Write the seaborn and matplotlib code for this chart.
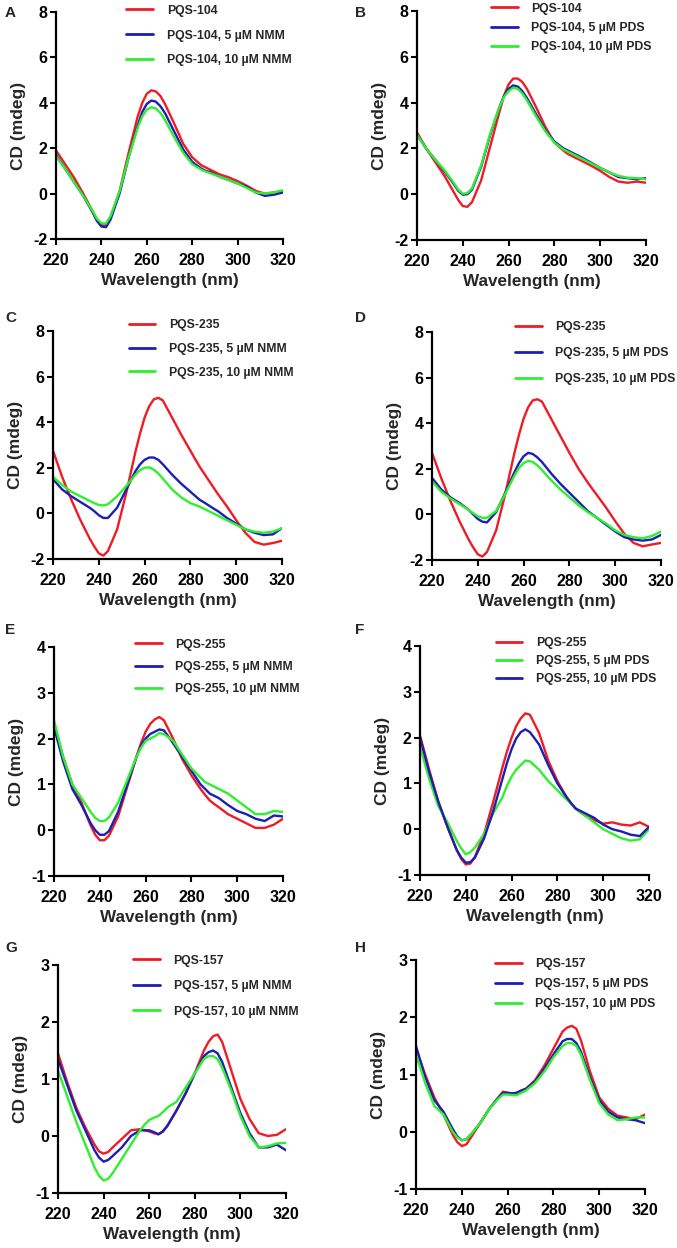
import numpy as np
import pandas as pd
import matplotlib
matplotlib.use("Agg")
import matplotlib.pyplot as plt
import seaborn as sns

# ---------------- data ----------------
wavelength = [220, 224, 228, 232, 236, 238, 240, 242, 244, 248, 252, 256, 258,
              260, 262, 264, 266, 268, 272, 276, 280, 284, 286, 288, 290, 292,
              296, 300, 304, 308, 312, 316, 320]

A_ctrl = [1.9, 1.3, 0.7, 0.0, -0.75, -1.15, -1.4, -1.4, -1.05, 0.1, 1.8, 3.4, 4.0,
          4.4, 4.55, 4.5, 4.3, 3.95, 3.1, 2.2, 1.6, 1.25, 1.15, 1.05, 0.95, 0.85,
          0.72, 0.55, 0.35, 0.12, 0.0, 0.05, 0.1]
A_5uM = [1.7, 1.1, 0.5, -0.1, -0.8, -1.2, -1.45, -1.48, -1.15, 0.0, 1.6, 3.0, 3.6,
         3.95, 4.1, 4.05, 3.85, 3.55, 2.75, 1.95, 1.4, 1.1, 1.0, 0.95, 0.85, 0.75,
         0.6, 0.45, 0.3, 0.05, -0.1, -0.05, 0.05]
A_10uM = [1.65, 1.1, 0.5, -0.1, -0.75, -1.1, -1.3, -1.32, -1.0, 0.1, 1.6, 2.9, 3.4,
          3.7, 3.8, 3.75, 3.55, 3.25, 2.5, 1.8, 1.3, 1.05, 0.97, 0.9, 0.82, 0.75,
          0.6, 0.45, 0.25, 0.05, 0.0, 0.05, 0.15]

B_ctrl = [2.7, 2.0, 1.4, 0.8, 0.1, -0.25, -0.52, -0.55, -0.35, 0.6, 2.1, 3.6, 4.3,
          4.8, 5.05, 5.05, 4.9, 4.6, 3.8, 2.95, 2.25, 1.9, 1.75, 1.65, 1.55, 1.45,
          1.25, 1.02, 0.75, 0.55, 0.5, 0.55, 0.5]
B_5uM = [2.6, 2.0, 1.5, 1.0, 0.45, 0.15, -0.02, 0.0, 0.2, 1.2, 2.6, 3.8, 4.3,
         4.6, 4.75, 4.7, 4.5, 4.2, 3.5, 2.8, 2.3, 2.0, 1.9, 1.8, 1.7, 1.6,
         1.38, 1.15, 0.95, 0.75, 0.7, 0.65, 0.7]
B_10uM = [2.6, 2.0, 1.5, 1.05, 0.5, 0.2, 0.02, 0.05, 0.25, 1.25, 2.65, 3.8, 4.25,
          4.5, 4.65, 4.6, 4.4, 4.1, 3.4, 2.75, 2.25, 1.95, 1.85, 1.75, 1.65, 1.55,
          1.35, 1.15, 0.95, 0.8, 0.72, 0.7, 0.65]

C_ctrl = [2.75, 1.6, 0.6, -0.3, -1.1, -1.45, -1.75, -1.85, -1.65, -0.7, 0.9, 2.7, 3.5,
          4.2, 4.7, 5.0, 5.07, 4.95, 4.2, 3.45, 2.75, 2.05, 1.75, 1.45, 1.15, 0.85,
          0.3, -0.3, -0.85, -1.25, -1.37, -1.3, -1.2]
C_5uM = [1.5, 1.05, 0.75, 0.5, 0.25, 0.1, -0.08, -0.2, -0.2, 0.25, 1.05, 1.85, 2.15,
         2.35, 2.45, 2.45, 2.35, 2.15, 1.7, 1.3, 0.95, 0.6, 0.48, 0.35, 0.22, 0.1,
         -0.2, -0.45, -0.7, -0.85, -0.95, -0.92, -0.65]
C_10uM = [1.6, 1.25, 0.95, 0.75, 0.55, 0.45, 0.37, 0.35, 0.4, 0.75, 1.2, 1.7, 1.9,
          2.0, 2.02, 1.92, 1.75, 1.52, 1.05, 0.7, 0.45, 0.3, 0.2, 0.1, 0.0, -0.1,
          -0.3, -0.5, -0.7, -0.8, -0.85, -0.8, -0.65]

D_ctrl = [2.7, 1.6, 0.6, -0.3, -1.1, -1.45, -1.75, -1.85, -1.65, -0.7, 0.9, 2.7, 3.5,
          4.2, 4.7, 5.0, 5.05, 4.95, 4.2, 3.45, 2.7, 2.0, 1.7, 1.4, 1.12, 0.85,
          0.3, -0.3, -0.85, -1.25, -1.4, -1.32, -1.25]
D_5uM = [1.6, 1.1, 0.75, 0.5, 0.2, 0.0, -0.2, -0.32, -0.35, 0.1, 0.95, 1.85, 2.25,
         2.55, 2.7, 2.65, 2.5, 2.3, 1.8, 1.35, 0.95, 0.55, 0.35, 0.15, 0.0, -0.15,
         -0.45, -0.75, -1.0, -1.1, -1.15, -1.1, -0.9]
D_10uM = [1.45, 1.0, 0.7, 0.45, 0.2, 0.05, -0.08, -0.15, -0.15, 0.15, 0.9, 1.7, 2.05,
          2.25, 2.35, 2.3, 2.15, 1.95, 1.5, 1.1, 0.75, 0.4, 0.25, 0.1, -0.02, -0.15,
          -0.4, -0.7, -0.9, -1.0, -1.05, -0.95, -0.75]

E_ctrl = [2.3, 1.6, 1.0, 0.6, 0.1, -0.1, -0.22, -0.22, -0.12, 0.3, 0.95, 1.6, 1.9,
          2.15, 2.32, 2.42, 2.47, 2.4, 2.0, 1.55, 1.2, 0.9, 0.77, 0.65, 0.57, 0.5,
          0.35, 0.25, 0.15, 0.05, 0.05, 0.12, 0.25]
E_5uM = [2.25, 1.5, 0.9, 0.55, 0.15, 0.0, -0.1, -0.1, -0.02, 0.4, 1.0, 1.6, 1.85,
         2.0, 2.1, 2.15, 2.2, 2.18, 1.9, 1.6, 1.3, 1.0, 0.9, 0.8, 0.75, 0.7,
         0.55, 0.42, 0.35, 0.25, 0.2, 0.32, 0.3]
E_10uM = [2.4, 1.6, 1.0, 0.7, 0.4, 0.27, 0.2, 0.2, 0.28, 0.6, 1.1, 1.6, 1.8,
          1.95, 2.0, 2.05, 2.12, 2.1, 1.95, 1.65, 1.35, 1.15, 1.05, 1.0, 0.95, 0.9,
          0.8, 0.65, 0.5, 0.35, 0.35, 0.42, 0.4]

F_ctrl = [2.05, 1.3, 0.6, 0.05, -0.45, -0.65, -0.77, -0.75, -0.6, -0.1, 0.6, 1.35, 1.7,
          2.0, 2.25, 2.42, 2.53, 2.5, 2.1, 1.5, 1.05, 0.7, 0.55, 0.45, 0.37, 0.3,
          0.2, 0.12, 0.15, 0.1, 0.08, 0.15, 0.05]
F_5uM = [1.8, 1.1, 0.5, 0.15, -0.25, -0.42, -0.55, -0.5, -0.4, -0.1, 0.35, 0.7, 0.95,
         1.15, 1.3, 1.4, 1.5, 1.48, 1.3, 1.05, 0.85, 0.65, 0.55, 0.45, 0.37, 0.3,
         0.15, 0.0, -0.1, -0.2, -0.25, -0.22, 0.0]
F_10uM = [2.0, 1.25, 0.6, 0.05, -0.45, -0.62, -0.73, -0.72, -0.62, -0.2, 0.4, 1.1, 1.45,
          1.75, 1.98, 2.12, 2.18, 2.12, 1.85, 1.4, 1.0, 0.7, 0.57, 0.45, 0.4, 0.35,
          0.25, 0.1, 0.0, -0.05, -0.12, -0.15, 0.05]

G_ctrl = [1.45, 0.95, 0.5, 0.15, -0.15, -0.27, -0.31, -0.28, -0.2, -0.05, 0.1, 0.12, 0.1,
          0.08, 0.05, 0.03, 0.08, 0.18, 0.45, 0.75, 1.1, 1.5, 1.65, 1.75, 1.78, 1.65,
          1.15, 0.65, 0.3, 0.05, 0.0, 0.02, 0.12]
G_5uM = [1.35, 0.9, 0.45, 0.1, -0.25, -0.38, -0.45, -0.42, -0.35, -0.2, 0.0, 0.1, 0.1,
         0.1, 0.07, 0.03, 0.08, 0.18, 0.45, 0.75, 1.1, 1.4, 1.47, 1.5, 1.45, 1.3,
         0.85, 0.4, 0.05, -0.2, -0.2, -0.15, -0.25]
G_10uM = [1.15, 0.7, 0.25, -0.15, -0.55, -0.7, -0.78, -0.75, -0.65, -0.4, -0.15, 0.1, 0.2,
          0.28, 0.32, 0.35, 0.42, 0.5, 0.6, 0.85, 1.1, 1.35, 1.4, 1.4, 1.35, 1.2,
          0.8, 0.35, 0.0, -0.2, -0.18, -0.13, -0.12]

H_ctrl = [1.45, 1.0, 0.6, 0.3, -0.05, -0.18, -0.25, -0.22, -0.1, 0.15, 0.4, 0.6, 0.7,
          0.68, 0.67, 0.68, 0.72, 0.75, 0.9, 1.15, 1.45, 1.75, 1.82, 1.85, 1.8, 1.6,
          1.05, 0.6, 0.4, 0.28, 0.25, 0.22, 0.3]
H_5uM = [1.5, 0.95, 0.55, 0.35, 0.05, -0.08, -0.15, -0.13, -0.05, 0.15, 0.4, 0.6, 0.68,
         0.68, 0.67, 0.68, 0.72, 0.75, 0.88, 1.1, 1.35, 1.58, 1.62, 1.62, 1.55, 1.4,
         0.95, 0.55, 0.35, 0.25, 0.22, 0.2, 0.15]
H_10uM = [1.35, 0.85, 0.45, 0.3, 0.0, -0.1, -0.15, -0.13, -0.05, 0.15, 0.4, 0.58, 0.65,
          0.65, 0.64, 0.64, 0.68, 0.72, 0.85, 1.05, 1.3, 1.5, 1.55, 1.55, 1.5, 1.35,
          0.9, 0.5, 0.3, 0.2, 0.22, 0.25, 0.25]

panel_letters = ["A", "B", "C", "D", "E", "F", "G", "H"]
x_ticks = [220, 240, 260, 280, 300, 320]

RED, BLUE, GREEN = "#EE1C25", "#1E1EB4", "#2EF02E"

panels = [
    [(A_ctrl, "PQS-104", RED), (A_5uM, "PQS-104, 5 µM NMM", BLUE), (A_10uM, "PQS-104, 10 µM NMM", GREEN)],
    [(B_ctrl, "PQS-104", RED), (B_5uM, "PQS-104, 5 µM PDS", BLUE), (B_10uM, "PQS-104, 10 µM PDS", GREEN)],
    [(C_ctrl, "PQS-235", RED), (C_5uM, "PQS-235, 5 µM NMM", BLUE), (C_10uM, "PQS-235, 10 µM NMM", GREEN)],
    [(D_ctrl, "PQS-235", RED), (D_5uM, "PQS-235, 5 µM PDS", BLUE), (D_10uM, "PQS-235, 10 µM PDS", GREEN)],
    [(E_ctrl, "PQS-255", RED), (E_5uM, "PQS-255, 5 µM NMM", BLUE), (E_10uM, "PQS-255, 10 µM NMM", GREEN)],
    [(F_ctrl, "PQS-255", RED), (F_5uM, "PQS-255, 5 µM PDS", GREEN), (F_10uM, "PQS-255, 10 µM PDS", BLUE)],
    [(G_ctrl, "PQS-157", RED), (G_5uM, "PQS-157, 5 µM NMM", BLUE), (G_10uM, "PQS-157, 10 µM NMM", GREEN)],
    [(H_ctrl, "PQS-157", RED), (H_5uM, "PQS-157, 5 µM PDS", BLUE), (H_10uM, "PQS-157, 10 µM PDS", GREEN)],
]
y_ranges = [(-2, 8, 2), (-2, 8, 2), (-2, 8, 2), (-2, 8, 2),
            (-1, 4, 1), (-1, 4, 1), (-1, 3, 1), (-1, 3, 1)]

# ---------------- layout (pixels) ----------------
W, H = 677, 1248
boxes = [(56, 283, 12, 239), (417, 646, 11, 240),
         (53, 282, 331, 559), (432, 661, 332, 560),
         (54, 283, 647, 876), (420, 649, 646, 875),
         (58, 286, 965, 1193), (416, 645, 960, 1189)]
legends = [(0.31, 1.032, 1.05), (0.323, 1.037, 0.6),
           (0.33, 1.051, 0.95), (0.362, 1.047, 1.15),
           (0.354, 1.037, 0.85), (0.33, 1.039, 0.5),
           (0.33, 1.045, 1.1), (0.345, 1.008, 0.65)]
letter_pos = [(5, 13), (355, 13), (5, 318), (355, 318),
              (5, 630), (355, 630), (5, 948), (355, 948)]

sns.set_theme(style="ticks")
plt.rcParams["font.family"] = ["Liberation Sans", "DejaVu Sans"]
plt.rcParams["font.weight"] = "bold"
plt.rcParams["axes.unicode_minus"] = False

fig = plt.figure(figsize=(W / 100, H / 100), dpi=100)
fig.patch.set_facecolor("white")

for i, (series, (x0, x1, yt, yb)) in enumerate(zip(panels, boxes)):
    ax = fig.add_axes([x0 / W, 1 - yb / H, (x1 - x0) / W, (yb - yt) / H])
    for vals, lab, col in series:
        df = pd.DataFrame({"wl": wavelength, "cd": vals})
        sns.lineplot(data=df, x="wl", y="cd", color=col, label=lab, ax=ax,
                     linewidth=1.7)
    lo, hi, st = y_ranges[i]
    ax.set_xlim(220, 320)
    ax.set_ylim(lo, hi)
    ax.set_xticks(x_ticks)
    ax.set_yticks(np.arange(lo, hi + 0.01, st))
    ax.set_xlabel("Wavelength (nm)", fontsize=12.3, fontweight="bold", labelpad=4)
    ax.set_ylabel("CD (mdeg)", fontsize=12.5, fontweight="bold", labelpad=5)
    ax.tick_params(axis="both", labelsize=11.5, width=1.5, length=4, direction="out",
                   colors="black")
    ax.tick_params(axis="x", pad=6)
    ax.tick_params(axis="y", pad=2)
    for lbl in ax.get_xticklabels() + ax.get_yticklabels():
        lbl.set_fontweight("bold")
    for side in ["top", "right"]:
        ax.spines[side].set_visible(False)
    for side in ["left", "bottom"]:
        ax.spines[side].set_linewidth(1.6)
        ax.spines[side].set_color("black")
    ax.set_facecolor("white")
    lx, ly, ls = legends[i]
    leg = ax.legend(loc="upper left", bbox_to_anchor=(lx, ly), frameon=False,
                    borderpad=0, borderaxespad=0, handlelength=2.2,
                    handletextpad=1.1, labelspacing=ls,
                    prop={"size": 8.8, "weight": "bold"})
    for line in leg.get_lines():
        line.set_linewidth(2.0)
    px, py = letter_pos[i]
    fig.text(px / W, 1 - py / H, panel_letters[i], fontsize=11, fontweight="bold",
             ha="left", va="center")

fig.savefig("out.png", dpi=100, facecolor="white")
